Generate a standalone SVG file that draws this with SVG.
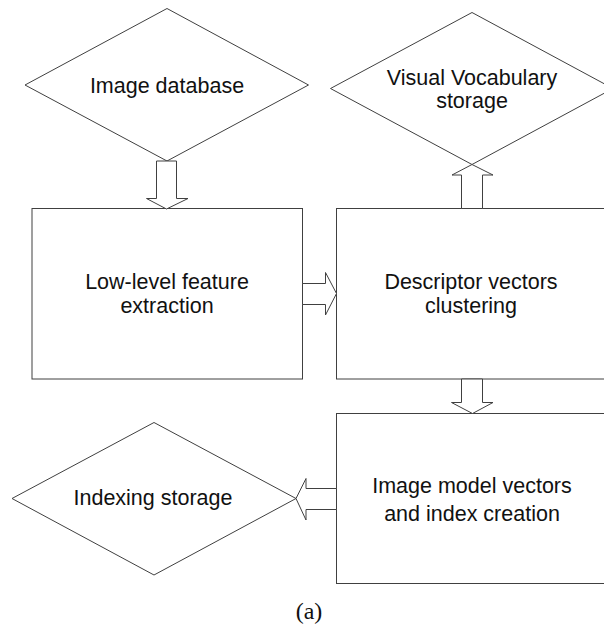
<svg xmlns="http://www.w3.org/2000/svg" width="604" height="630" viewBox="0 0 604 630">
<style>
.s{fill:#fff;stroke:#404040;stroke-width:1}
.a{fill:#fff;stroke:#404040;stroke-width:1;stroke-linejoin:miter}
.t{font-family:"Liberation Sans",Arial,sans-serif;font-size:21.5px;fill:#111;text-anchor:middle}
.c{font-family:"Liberation Serif","Times New Roman",serif;font-size:24px;fill:#111;text-anchor:middle}
</style>
<rect width="604" height="630" fill="#fff"/>
<g id="image-database">
<polygon class="s" points="167,8.5 308.5,85 167,161 25,85"/>
<text class="t" x="167" y="92.5">Image database</text>
</g>
<g id="visual-vocabulary-storage">
<polygon class="s" points="472,12.5 613,88.5 472,164.5 330.5,88.5"/>
<text class="t" x="472" y="84.5">Visual Vocabulary</text>
<text class="t" x="472" y="107.5">storage</text>
</g>
<g id="low-level-feature-extraction">
<rect class="s" x="32" y="208.5" width="270.5" height="170.5"/>
<text class="t" x="167" y="289">Low-level feature</text>
<text class="t" x="167" y="313">extraction</text>
</g>
<g id="descriptor-vectors-clustering">
<rect class="s" x="336.5" y="208.5" width="280" height="170.5"/>
<text class="t" x="471" y="289">Descriptor vectors</text>
<text class="t" x="471" y="313">clustering</text>
</g>
<g id="image-model-vectors">
<rect class="s" x="336.5" y="413.5" width="280" height="170"/>
<text class="t" x="472" y="492.5">Image model vectors</text>
<text class="t" x="472" y="520.5">and index creation</text>
</g>
<g id="indexing-storage">
<polygon class="s" points="154,422.5 296,498.5 154,575 12,498.5"/>
<text class="t" x="153" y="504.5">Indexing storage</text>
</g>
<g id="connectors">
<polygon class="a" points="156.5,161 176.5,161 176.5,198.5 188,198.5 166.5,209 146.5,198.5 156.5,198.5"/>
<polygon class="a" points="461.5,208.5 461.5,175 452,175 472,164.5 493,175 482.5,175 482.5,208.5"/>
<polygon class="a" points="302.5,283.5 325.5,283.5 325.5,272.5 336.5,293.5 325.5,315 325.5,304.5 302.5,304.5"/>
<polygon class="a" points="461.5,379 482.5,379 482.5,402.5 493,402.5 472.5,413.5 451.5,402.5 461.5,402.5"/>
<polygon class="a" points="336.5,488.5 306,488.5 306,478.5 296,498.5 306,520 306,509.5 336.5,509.5"/>
</g>
<text class="c" x="309" y="619">(a)</text>
</svg>
